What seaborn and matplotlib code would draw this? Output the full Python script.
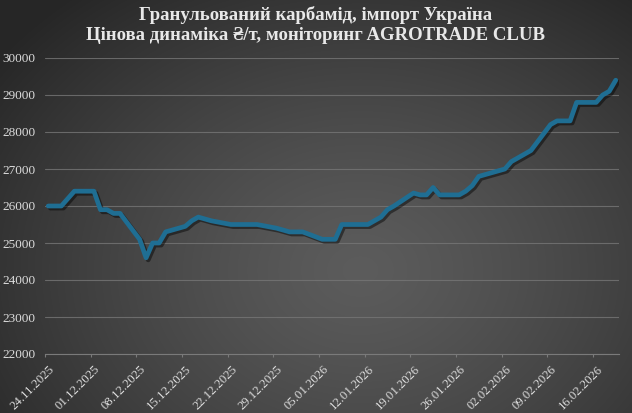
import numpy as np
import pandas as pd
import matplotlib
matplotlib.use("Agg")
import matplotlib.pyplot as plt
import matplotlib.patheffects as pe
import seaborn as sns

# ---- data ----
start_date = "2025-11-24"
end_date = "2026-02-19"
prices = [
    26000, 26000, 26000, 26200, 26400,
    26400, 25900, 25900, 25800, 25800,
    25100, 24600, 25000, 25000, 25300,
    25450, 25600, 25700, 25650, 25600,
    25500, 25500, 25500, 25500, 25500,
    25400, 25350, 25300, 25300, 25300,
    25100, 25100, 25100, 25500, 25500,
    25500, 25600, 25700, 25900, 26000,
    26350, 26300, 26300, 26500, 26300,
    26300, 26400, 26550, 26800, 26850,
    27000, 27200, 27300, 27400, 27500,
    28200, 28300, 28300, 28300, 28800,
    28800, 29000, 29100, 29400,
]
tick_labels = ["24.11.2025", "01.12.2025", "08.12.2025", "15.12.2025", "22.12.2025",
               "29.12.2025", "05.01.2026", "12.01.2026", "19.01.2026", "26.01.2026",
               "02.02.2026", "09.02.2026", "16.02.2026"]
y_ticks = [22000, 23000, 24000, 25000, 26000, 27000, 28000, 29000, 30000]
title1 = "Гранульований карбамід, імпорт Україна"
title2 = "Цінова динаміка ₴/т, моніторинг AGROTRADE CLUB"

dates = pd.bdate_range(start_date, end_date)
df = pd.DataFrame({"date": dates, "price": prices})

sns.set_theme(style="white")
serif = ["Liberation Serif", "DejaVu Serif"]
plt.rcParams["font.family"] = serif

fig = plt.figure(figsize=(6.32, 4.13), dpi=100)

# background radial gradient
bg = fig.add_axes([0, 0, 1, 1], zorder=-10)
H, W = 413, 632
yy, xx = np.mgrid[0:H, 0:W]
cx, cy = 360, 270
r = np.sqrt(((xx - cx) / 420.0) ** 2 + ((yy - cy) / 330.0) ** 2)
val = np.clip(0.36 - 0.19 * r ** 1.3, 0.15, 0.40)
img = np.dstack([val, val, val])
bg.imshow(img, extent=[0, 1, 0, 1], aspect="auto", interpolation="bilinear")
bg.axis("off")

ax = fig.add_axes([45 / 632, 1 - 354 / 413, (619 - 45) / 632, (354 - 58) / 413])
ax.set_facecolor("none")

sns.lineplot(data=df, x="date", y="price", ax=ax, color="#1f6e93", linewidth=3.4,
             solid_joinstyle="round", solid_capstyle="round",
             path_effects=[pe.SimpleLineShadow(offset=(1.5, -1.5), shadow_color="black", alpha=0.45),
                           pe.Normal()])

x0 = pd.Timestamp(start_date) - pd.Timedelta(hours=12)
x1 = pd.Timestamp(end_date) + pd.Timedelta(hours=12)
ax.set_xlim(x0, x1)
ax.set_ylim(22000, 30000)
ax.set_yticks(y_ticks)
ax.set_yticklabels([str(v) for v in y_ticks])

label_dates = [pd.to_datetime(t, format="%d.%m.%Y") for t in tick_labels]
# tick marks at slot boundaries, labels shifted slightly into the slot
ax.set_xticks([d - pd.Timedelta(hours=12) for d in label_dates])
ax.set_xticklabels([""] * len(label_dates))
ax.set_xticks([d + pd.Timedelta(hours=16) for d in label_dates], minor=True)
ax.set_xticklabels(tick_labels, minor=True, rotation=45, ha="right", va="center",
                   rotation_mode="anchor")

ax.grid(axis="y", color="#767676", linewidth=0.8, alpha=0.8)
ax.grid(axis="x", visible=False)
for s in ["left", "right", "top"]:
    ax.spines[s].set_visible(False)
ax.spines["bottom"].set_color("#7a7a7a")
ax.spines["bottom"].set_linewidth(0.8)
ax.tick_params(axis="x", which="major", colors="#7a7a7a", length=2.5, width=0.8,
               direction="out", bottom=True)
ax.tick_params(axis="x", which="minor", length=0, pad=9.5, labelcolor="#dcdcdc",
               labelsize=9.2, bottom=True)
ax.tick_params(axis="y", length=0, pad=7, labelcolor="#dcdcdc", labelsize=9.5)
ax.set_xlabel("")
ax.set_ylabel("")

for t, y in [(title1, 1 - 15 / 413), (title2, 1 - 35 / 413)]:
    fig.text(0.5, y, t, ha="center", va="center", fontsize=13.5, fontweight="bold",
             color="#e8e8e8", family=serif)

fig.savefig("out.png", dpi=100)
